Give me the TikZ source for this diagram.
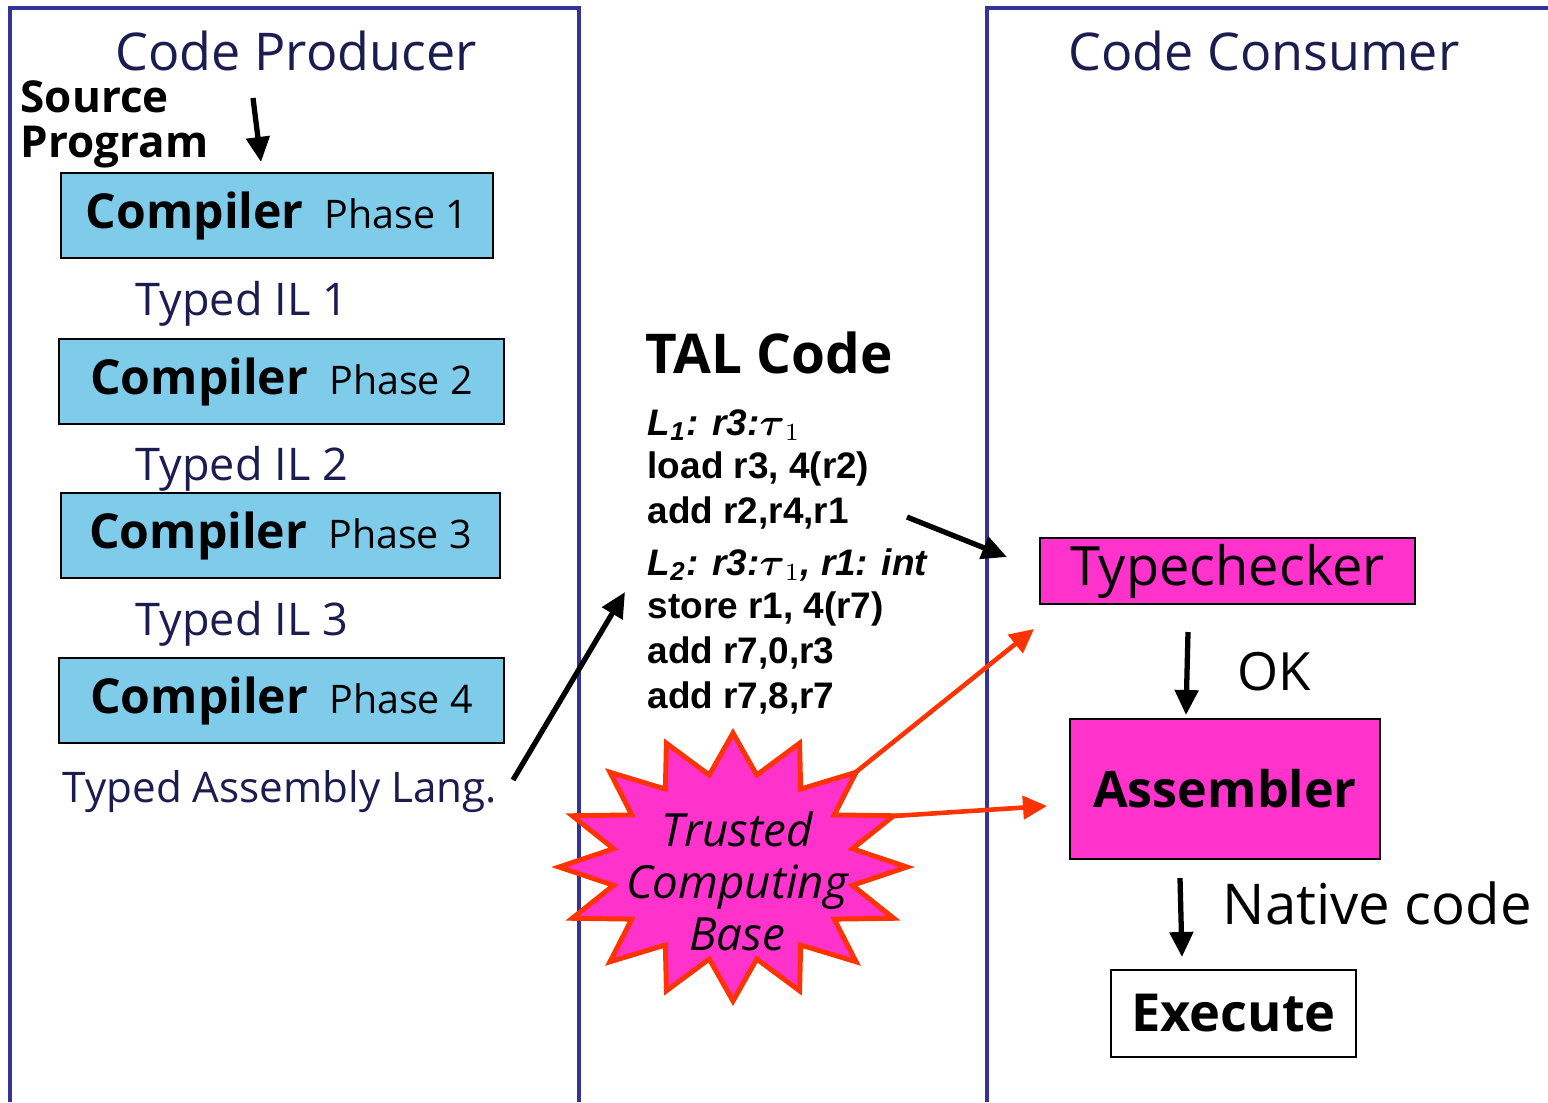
\documentclass[tikz,border=0pt]{standalone}
\usepackage{amsmath}
\usepackage{fontspec}
\setmainfont{Open Sans}
\newfontfamily\talfont{Liberation Sans}
\usetikzlibrary{arrows.meta}
\definecolor{panelblue}{HTML}{333399}
\definecolor{inkblue}{HTML}{1C1C50}
\definecolor{phaseblue}{HTML}{7ECCEA}
\definecolor{hotpink}{HTML}{FF33CC}
\definecolor{burstred}{HTML}{FF3300}
\newcommand\phasetext[1]{{\fontsize{13.7}{16}\selectfont\bfseries Compiler}\hspace{6pt}{\fontsize{11.2}{13}\selectfont Phase #1}}
\begin{document}
\begin{tikzpicture}[x=0.01cm, y=-0.01cm,
  panel/.style={panelblue, line width=1.2pt},
  title/.style={inkblue, anchor=base west, inner sep=0pt, font=\fontsize{14.8}{17}\selectfont},
  srclabel/.style={anchor=base west, inner sep=0pt, font=\fontsize{12.5}{15}\selectfont\bfseries},
  phase/.style={draw, line width=0.7pt, fill=phaseblue, minimum height=0.85cm, inner sep=0pt},
  ilnote/.style={inkblue, anchor=base west, inner sep=0pt, font=\fontsize{12.8}{15}\selectfont},
  code/.style={anchor=base west, inner sep=0pt, font=\talfont\bfseries\fontsize{10.5}{12}\selectfont},
  pinkbox/.style={draw, line width=0.7pt, fill=hotpink, inner sep=0pt},
  burst/.style={draw=burstred, fill=hotpink, line width=1.4pt, line join=miter},
  blackarrow/.style={line width=1.5pt, -{Triangle[length=0.25cm,width=0.23cm]}},
  redarrow/.style={burstred, line width=1.3pt, -{Triangle[length=0.24cm,width=0.23cm]}}]
  \useasboundingbox (0,0) rectangle (1548,1102);
  \draw[panel] (10,1102) -- (10,8) -- (579,8) -- (579,1102); \draw[panel] (987,1102) -- (987,8) -- (1548,8);
  \node[title] (producer) at (115,70) {Code Producer}; \node[title] (consumer) at (1068,70) {Code Consumer};
  \node[srclabel] (src1) at (20,112) {Source}; \node[srclabel] (src2) at (20,157) {Program};
  \foreach \n/\x/\y/\w in {1/277/215.5/4.32, 2/281.5/381.5/4.45, 3/280.5/535.5/4.39, 4/281.5/700.5/4.45}
    \node[phase, minimum width=\w cm] (c\n) at (\x,\y) {\phasetext{\n}};
  \foreach \n/\y in {1/315, 2/480, 3/635} \node[ilnote] (il\n) at (135,\y) {Typed IL \n};
  \node[ilnote, font=\fontsize{12}{14}\selectfont] (tal) at (62,802) {Typed Assembly Lang.};
  \coordinate (srcin) at (253,98); \coordinate (srcout) at (261,162);
  \draw[blackarrow] (srcin) -- (srcout);
  \node[anchor=base west, inner sep=0pt, font=\fontsize{15.6}{18}\selectfont\bfseries] (talcode) at (645,373) {TAL Code};
  \node[code] (l1) at (647,435) {\itshape L\textsubscript{1}: r3:$\boldsymbol{\tau}_1$};
  \node[code] (l2) at (647,478) {load r3, 4(r2)};
  \node[code] (l3) at (647,523) {add r2,r4,r1};
  \node[code] (l4) at (647,575) {\itshape L\textsubscript{2}: r3:$\boldsymbol{\tau}_1$, r1: int};
  \node[code] (l5) at (647,618) {store r1, 4(r7)};
  \node[code] (l6) at (647,663) {add r7,0,r3};
  \node[code] (l7) at (647,708) {add r7,8,r7};
  \coordinate (talfrom) at (513,780); \coordinate (talto) at (625,592);
  \draw[blackarrow] (talfrom) -- (talto);
  \node[pinkbox, minimum width=3.75cm, minimum height=0.66cm, font=\fontsize{15.4}{18}\selectfont] (check) at (1227.5,571) {Typechecker};
  \node[pinkbox, minimum width=3.10cm, minimum height=1.40cm, font=\fontsize{14.3}{17}\selectfont\bfseries] (asm) at (1225,789) {Assembler};
  \node[draw, line width=0.7pt, fill=white, inner sep=0pt, minimum width=2.45cm, minimum height=0.87cm, font=\fontsize{14.9}{17}\selectfont\bfseries] (exec) at (1233.5,1013.5) {Execute};
  \coordinate (codeout) at (907,517); \coordinate (checkin) at (1007,557);
  \draw[blackarrow] (codeout) -- (checkin);
  \coordinate (okfrom) at (1188,632); \coordinate (okto) at (1186,715);
  \draw[blackarrow] (okfrom) -- (okto); \node[anchor=base west, inner sep=0pt, font=\fontsize{15}{18}\selectfont] (ok) at (1237,690) {OK};
  \coordinate (natfrom) at (1180,878); \coordinate (natto) at (1182,957);
  \draw[blackarrow] (natfrom) -- (natto); \node[anchor=base west, inner sep=0pt, font=\fontsize{16}{18}\selectfont] (native) at (1222,924) {Native code};
  \draw[burst] plot[samples at={0,...,31}, variable=\k] ({733+174*(1-0.3*mod(\k,2))*cos(90+11.25*\k)}, {867-134*(1-0.3*mod(\k,2))*sin(90+11.25*\k)}) -- cycle;
  \node[align=center, font=\itshape\fontsize{13}{14.8}\selectfont] (tcb) at (737,881) {Trusted\\Computing\\Base};
  \coordinate (tcbne) at (856,772); \coordinate (tcbe) at (894,816);
  \coordinate (redcheck) at (1034,629); \coordinate (redasm) at (1047,806);
  \draw[redarrow] (tcbne) -- (redcheck); \draw[redarrow] (tcbe) -- (redasm);
\end{tikzpicture}
\end{document}
